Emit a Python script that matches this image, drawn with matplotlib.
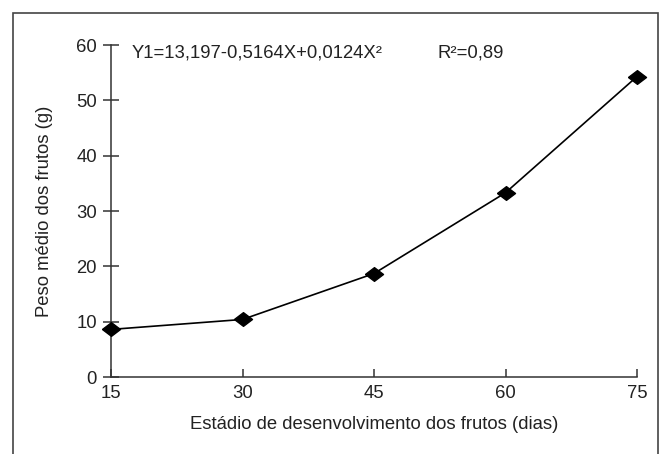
import matplotlib
matplotlib.use("Agg")
import matplotlib.pyplot as plt
from matplotlib.patches import Rectangle

# data
dias = [15, 30, 45, 60, 75]
peso = [8.6, 10.4, 18.7, 33.3, 54.3]
xticks = [15, 30, 45, 60, 75]
yticks = [0, 10, 20, 30, 40, 50, 60]
equacao = 'Y1=13,197-0,5164X+0,0124X²'
r2 = 'R²=0,89'

plt.rcParams['font.family'] = ['Liberation Sans', 'DejaVu Sans']
fs = 13.3
tc = '#222222'

fig = plt.figure(figsize=(6.67, 4.54), dpi=100)
ax = fig.add_axes([111/667, 77/454, 526/667, 332/454])

# outer frame around the whole figure
fig.patches.append(Rectangle((13/667, -0.05), 645/667, 1.05 - 13/454,
                             transform=fig.transFigure, fill=False,
                             edgecolor='#444444', linewidth=1.2))

# flattened diamond like the original
losango = [(-1, 0), (0, 0.76), (1, 0), (0, -0.76), (-1, 0)]
ax.plot(dias, peso, color='black', lw=1.2, marker=losango, ms=13,
        clip_on=False, zorder=3)

ax.set_xlim(15, 75)
ax.set_ylim(0, 60)
ax.set_xticks(xticks)
ax.set_yticks(yticks)
for s in ['top', 'right']:
    ax.spines[s].set_visible(False)
for s in ['left', 'bottom']:
    ax.spines[s].set_color('#333333')
    ax.spines[s].set_linewidth(1.1)
ax.tick_params(axis='y', direction='inout', length=12, width=1.1,
               color='#333333', labelsize=fs, labelcolor=tc, pad=4)
ax.tick_params(axis='x', direction='in', length=6, width=1.1,
               color='#333333', labelsize=fs, labelcolor=tc, pad=6)

ax.set_xlabel('Estádio de desenvolvimento dos frutos (dias)', fontsize=fs,
              color=tc, labelpad=10)
ax.set_ylabel('Peso médio dos frutos (g)', fontsize=fs, color=tc,
              labelpad=17)

ax.text(17.4, 57.8, equacao, fontsize=fs, color=tc, va='baseline', ha='left')
ax.text(52.2, 57.8, r2, fontsize=fs, color=tc, va='baseline', ha='left')

fig.savefig('out.png', dpi=100)
